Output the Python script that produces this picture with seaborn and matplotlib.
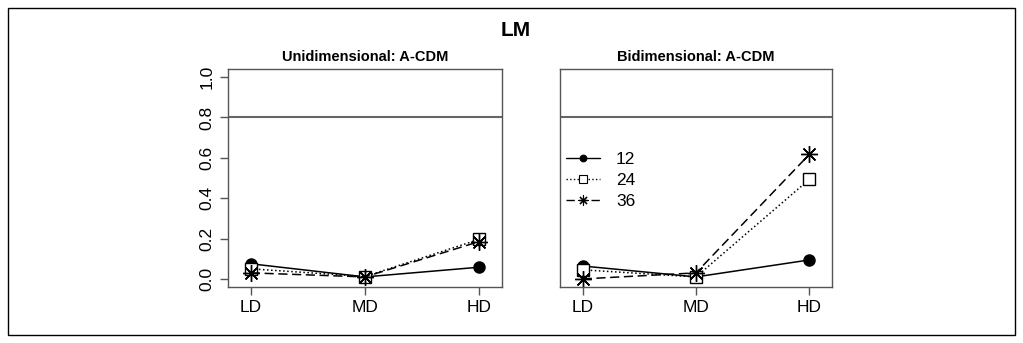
import numpy as np
import pandas as pd
import matplotlib
matplotlib.use("Agg")
import matplotlib.pyplot as plt
from matplotlib.lines import Line2D
import seaborn as sns

levels = ["LD", "MD", "HD"]
series = ["12", "24", "36"]

uni_12 = [0.075, 0.010, 0.058]
uni_24 = [0.050, 0.012, 0.196]
uni_36 = [0.030, 0.010, 0.185]

bi_12 = [0.064, 0.010, 0.094]
bi_24 = [0.045, 0.010, 0.493]
bi_36 = [0.000, 0.030, 0.617]

panel_titles = ["Unidimensional: A-CDM", "Bidimensional: A-CDM"]
y_ticks = [0.0, 0.2, 0.4, 0.6, 0.8, 1.0]
ref_line = 0.8

sns.set_style("white")
plt.rcParams["font.family"] = ["Liberation Sans", "DejaVu Sans"]
plt.rcParams["text.color"] = "black"
plt.rcParams["xtick.color"] = "black"
plt.rcParams["ytick.color"] = "black"


def to_frame(v12, v24, v36):
    rows = []
    for name, vals in zip(series, [v12, v24, v36]):
        for i, v in enumerate(vals):
            rows.append({"pos": i + 1, "level": levels[i], "n": name, "value": v})
    return pd.DataFrame(rows)


frames = [to_frame(uni_12, uni_24, uni_36), to_frame(bi_12, bi_24, bi_36)]

styles = {
    "12": dict(marker="o", linestyle="-", mfc="black", ms=8),
    "24": dict(marker="s", linestyle=":", mfc="white", ms=9),
    "36": dict(marker=(8, 2, 0), linestyle=(0, (6, 3)), mfc="black", ms=12),
}

fig = plt.figure(figsize=(10.23, 3.43), dpi=100)
fig.patches.append(plt.Rectangle((8 / 1023, 8 / 343), 1007 / 1023, 327 / 343,
                                 transform=fig.transFigure, fill=False,
                                 edgecolor="black", linewidth=1.0))

axes = [fig.add_axes([228 / 1023, 1 - 287 / 343, 274 / 1023, 218 / 343]),
        fig.add_axes([560 / 1023, 1 - 287 / 343, 272 / 1023, 218 / 343])]

for k, (ax, df) in enumerate(zip(axes, frames)):
    for name in series:
        st = styles[name]
        sub = df[df["n"] == name]
        sns.lineplot(data=sub, x="pos", y="value", ax=ax, color="black",
                     linewidth=1.1, linestyle=st["linestyle"], marker=st["marker"],
                     markersize=st["ms"], markerfacecolor=st["mfc"],
                     markeredgecolor="black", markeredgewidth=1.0, legend=False)
    ax.axhline(ref_line, color="#666666", linewidth=1.5)
    ax.set_xlim(0.8, 3.2)
    ax.set_ylim(-0.04, 1.04)
    ax.set_xticks([1, 2, 3])
    ax.set_xticklabels(levels, fontsize=12.5)
    ax.set_xlabel("")
    ax.set_ylabel("")
    ax.set_title(panel_titles[k], fontsize=10.5, fontweight="bold", pad=6)
    for sp in ax.spines.values():
        sp.set_color("#555555")
        sp.set_linewidth(1.0)
    ax.tick_params(axis="both", direction="out", length=6, width=1.0,
                   color="#555555", bottom=True, left=(k == 0))
    if k == 0:
        ax.set_yticks(y_ticks)
        ax.set_yticklabels([f"{t:.1f}" for t in y_ticks], rotation=90,
                           va="center", fontsize=12.5)
    else:
        ax.set_yticks([])

handles = [Line2D([], [], color="black", linewidth=1.0, linestyle=styles[n]["linestyle"],
                  marker=styles[n]["marker"], markersize=styles[n]["ms"] * 0.6,
                  markerfacecolor=styles[n]["mfc"], markeredgecolor="black",
                  markeredgewidth=0.8) for n in series]
axes[1].legend(handles, series, loc="upper left", bbox_to_anchor=(-0.005, 0.65),
               frameon=False, fontsize=12.5, handlelength=2.0, handletextpad=0.9,
               labelspacing=0.33, borderaxespad=0)

fig.text(516 / 1023, 1 - 31 / 343, "LM", ha="center", va="center",
         fontsize=15, fontweight="bold")

fig.savefig("out.png", dpi=100)
